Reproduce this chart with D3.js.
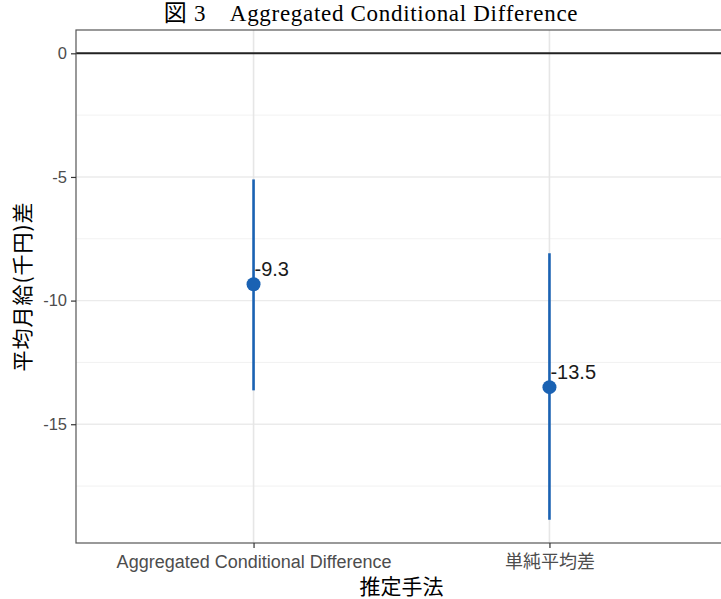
<!DOCTYPE html>
<html>
<head>
<meta charset="utf-8">
<script src="https://cdn.jsdelivr.net/npm/d3@7"></script>
<style>
    body { margin: 0; background: #fff; }
    svg { display: block; }
    .tick-text { font-family: "Liberation Sans", Arial, "Noto Sans CJK JP", sans-serif; fill: #4d4d4d; }
    .axis-title { font-family: "Noto Sans CJK JP", sans-serif; fill: #000; font-size: 21px; }
</style>
</head>
<body>
<div id="chart"><svg></svg></div>
<script>
// data
var categories = ['Aggregated Conditional Difference', '単純平均差']
var estimates = [-9.34, -13.5]
var lower = [-13.63, -18.86]
var upper = [-5.1, -8.09]
var pointLabels = ['-9.3', '-13.5']
var yTicks = [0, -5, -10, -15]
var yMinor = [-2.5, -7.5, -12.5, -17.5]

var width = 721,
    height = 599,
    margin = { top: 30, left: 76, bottom: 56, right: -6 },
    blue = '#1a62b3'

var rows = categories.map(function(c, i) {
    return { cat: c, est: estimates[i], lo: lower[i], hi: upper[i], label: pointLabels[i] }
})

var svg = d3.select('#chart svg')
    .attr('width', width)
    .attr('height', height)

var panelW = width - margin.left - margin.right,
    panelH = height - margin.top - margin.bottom

// ggplot-like 5% expansion on the continuous axis
var yExt = d3.extent(lower.concat(upper, [0]))
var pad = (yExt[1] - yExt[0]) * 0.05
var y = d3.scaleLinear()
    .domain([yExt[0] - pad, yExt[1] + pad])
    .range([panelH, 0])

var x = d3.scalePoint()
    .domain(categories)
    .range([0, panelW])
    .padding(0.6)

var g = svg.append('g')
    .attr('transform', 'translate(' + margin.left + ',' + margin.top + ')')

// grid
g.append('g').selectAll('line.minor')
    .data(yMinor)
    .join('line')
    .attr('x1', 0).attr('x2', panelW)
    .attr('y1', d => y(d)).attr('y2', d => y(d))
    .attr('stroke', '#ebebeb')
    .attr('stroke-width', 0.7)

g.append('g').selectAll('line.major')
    .data(yTicks)
    .join('line')
    .attr('x1', 0).attr('x2', panelW)
    .attr('y1', d => y(d)).attr('y2', d => y(d))
    .attr('stroke', '#ebebeb')
    .attr('stroke-width', 1.4)

g.append('g').selectAll('line.vmajor')
    .data(categories)
    .join('line')
    .attr('x1', d => x(d)).attr('x2', d => x(d))
    .attr('y1', 0).attr('y2', panelH)
    .attr('stroke', '#e6e6e6')
    .attr('stroke-width', 1.6)

// zero reference line
g.append('line')
    .attr('x1', 0).attr('x2', panelW)
    .attr('y1', y(0)).attr('y2', y(0))
    .attr('stroke', '#222')
    .attr('stroke-width', 2)

// error bars
g.append('g').selectAll('line')
    .data(rows)
    .join('line')
    .attr('x1', d => x(d.cat)).attr('x2', d => x(d.cat))
    .attr('y1', d => y(d.lo)).attr('y2', d => y(d.hi))
    .attr('stroke', blue)
    .attr('stroke-width', 2.6)

g.append('g').selectAll('circle')
    .data(rows)
    .join('circle')
    .attr('cx', d => x(d.cat))
    .attr('cy', d => y(d.est))
    .attr('r', 7)
    .attr('fill', blue)

g.append('g').selectAll('text')
    .data(rows)
    .join('text')
    .attr('x', d => x(d.cat) + 1)
    .attr('y', d => y(d.est) - 8)
    .attr('font-family', '"Liberation Sans", Arial, sans-serif')
    .attr('font-size', 20)
    .attr('fill', '#1a1a1a')
    .text(d => d.label)

// panel border
g.append('rect')
    .attr('width', panelW)
    .attr('height', panelH)
    .attr('fill', 'none')
    .attr('stroke', '#555')
    .attr('stroke-width', 1.2)

// axes
var yAxis = g.append('g')
    .call(d3.axisLeft(y).tickValues(yTicks).tickSize(5).tickPadding(4).tickFormat(d => String(d)))
yAxis.select('.domain').remove()
yAxis.selectAll('line').attr('stroke', '#333').attr('stroke-width', 1.2)
yAxis.selectAll('text').attr('class', 'tick-text').attr('font-size', 16.5)

var xAxis = g.append('g')
    .attr('transform', 'translate(0,' + panelH + ')')
    .call(d3.axisBottom(x).tickSize(5).tickPadding(7))
xAxis.select('.domain').remove()
xAxis.selectAll('line').attr('stroke', '#333').attr('stroke-width', 1.2)
xAxis.selectAll('text').attr('class', 'tick-text').attr('font-size', 18)

// titles
svg.append('text')
    .attr('class', 'axis-title')
    .attr('x', margin.left + panelW / 2)
    .attr('y', 594)
    .attr('text-anchor', 'middle')
    .text('推定手法')

svg.append('text')
    .attr('class', 'axis-title')
    .attr('transform', 'translate(30,' + (margin.top + panelH / 2) + ') rotate(-90)')
    .attr('text-anchor', 'middle')
    .attr('letter-spacing', 1)
    .text('平均月給(千円)差')

svg.append('text')
    .attr('x', 371)
    .attr('y', 21)
    .attr('text-anchor', 'middle')
    .attr('font-family', '"Liberation Serif", "Noto Sans CJK JP", serif')
    .attr('font-size', 23)
    .attr('letter-spacing', 0.7)
    .attr('fill', '#000')
    .text('図 3　Aggregated Conditional Difference')
</script>
</body>
</html>
